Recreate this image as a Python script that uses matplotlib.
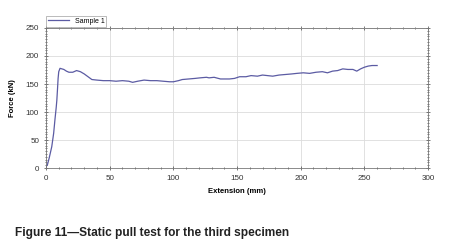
import matplotlib
matplotlib.use('Agg')
import matplotlib.pyplot as plt
from matplotlib.ticker import MultipleLocator

# values
extension = [0, 1, 2.5, 4.5, 6, 7, 8, 8.5, 9, 9.5, 10, 11, 12.5, 14, 16, 18, 21, 24, 27,
             30, 33, 36, 40, 45, 50, 55, 60, 65, 68, 72, 77, 82, 87, 92, 97, 100,
             104, 107, 112, 117, 121, 126, 128, 132, 137, 141, 144, 148, 152, 157,
             161, 166, 170, 174, 178, 183, 188, 193, 197, 202, 207, 212, 217, 221,
             225, 229, 233, 237, 241, 244, 247, 250, 253, 256, 260]
force = [3, 5, 18, 38, 62, 86, 108, 121, 140, 160, 172, 178, 177, 176, 173, 171, 171, 174, 172,
         168, 163, 158, 157, 156, 156, 155, 156, 155, 153, 155, 157, 156, 156, 155, 154, 154,
         156, 158, 159, 160, 161, 162, 161, 162, 159, 159, 159, 160, 163, 163,
         165, 164, 166, 165, 164, 166, 167, 168, 169, 170, 169, 171, 172, 170,
         173, 174, 177, 176, 176, 173, 177, 180, 182, 183, 183]

fig = plt.figure(figsize=(4.61, 2.52), dpi=100)
ax = fig.add_axes([0.0998, 0.333, 0.8288, 0.556])

line, = ax.plot(extension, force, color='#5b5ba3', lw=0.9, label='Sample 1')

ax.set_xlim(0, 300)
ax.set_ylim(0, 250)
ax.xaxis.set_major_locator(MultipleLocator(50))
ax.yaxis.set_major_locator(MultipleLocator(50))
ax.xaxis.set_minor_locator(MultipleLocator(10))
ax.yaxis.set_minor_locator(MultipleLocator(5))
ax.grid(True, which='major', color='#dcdcdc', lw=0.6)
ax.tick_params(which='both', direction='inout', top=True, right=True,
               labelsize=5.8, colors='#444444', width=0.5)
ax.tick_params(which='major', length=3)
ax.tick_params(which='minor', length=1.5)
for s in ax.spines.values():
    s.set_color('#777777')
    s.set_linewidth(0.6)

font = ['Liberation Sans', 'DejaVu Sans']
for lab in ax.get_xticklabels() + ax.get_yticklabels():
    lab.set_family(font)
    lab.set_color('#333333')

ax.set_xlabel('Extension (mm)', fontsize=5.5, fontweight='bold', family=font, labelpad=4)
ax.set_ylabel('Force (kN)', fontsize=5.5, fontweight='bold', family=font, labelpad=7)

leg = fig.legend(handles=[line], loc='lower left', bbox_to_anchor=(0.1, 0.893),
                 frameon=True, fancybox=False, edgecolor='#888888',
                 borderpad=0.3, handlelength=3, borderaxespad=0, prop={'family': font, 'size': 5})
leg.get_frame().set_linewidth(0.5)

fig.text(0.033, 0.062, 'Figure 11\u2014Static pull test for the third specimen',
         fontsize=8.6, fontweight='bold', family=font, color='#222222')

fig.savefig('out.png', dpi=100)
